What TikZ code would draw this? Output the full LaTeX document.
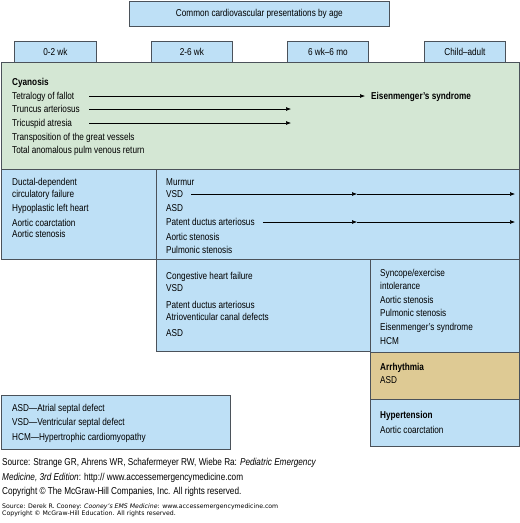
\documentclass[tikz,border=0pt]{standalone}
\usepackage{fontspec}
\setmainfont{Liberation Sans}[FakeStretch=0.82]
\newfontfamily\notefont{DejaVu Sans}
\usetikzlibrary{positioning, arrows.meta, calc}
\definecolor{boxblue}{RGB}{190,224,246}
\definecolor{boxgreen}{RGB}{212,231,212}
\definecolor{boxtan}{RGB}{222,202,148}
\definecolor{edge}{RGB}{75,82,90}

\begin{document}
\begin{tikzpicture}[x=1pt, y=-1pt, font=\fontsize{10}{12}\selectfont, >={Latex[length=5pt, width=4pt]},
  panel/.style={draw=edge, line width=0.8pt, anchor=north west, inner sep=0pt, align=center},
  txt/.style={anchor=base west, inner sep=0pt},
  arr/.style={->, line width=0.6pt}]
  \useasboundingbox (0,0) rectangle (520,523);
  % header row
  \node[panel, fill=boxblue, minimum width=260pt, minimum height=25pt] (title) at (129,1) {Common cardiovascular presentations by age};
  \node[panel, fill=boxblue, minimum width=82pt, minimum height=21pt] (age1) at (14,41) {0-2 wk};
  \node[panel, fill=boxblue, minimum width=81pt, minimum height=21pt] (age2) at (151,41) {2-6 wk};
  \node[panel, fill=boxblue, minimum width=81pt, minimum height=21pt] (age3) at (287,41) {6 wk--6 mo};
  \node[panel, fill=boxblue, minimum width=81pt, minimum height=21pt] (age4) at (424,41) {Child--adult};
  % panels
  \node[panel, fill=boxgreen, minimum width=518pt, minimum height=107pt] (cyan) at (1,62) {};
  \node[panel, fill=boxblue, minimum width=155pt, minimum height=90pt] (duct) at (1,169) {};
  \node[panel, fill=boxblue, minimum width=363pt, minimum height=90pt] (murm) at (156,169) {};
  \node[panel, fill=boxblue, minimum width=214pt, minimum height=92pt] (chf) at (156,259) {};
  \node[panel, fill=boxblue, minimum width=149pt, minimum height=93pt] (sync) at (370,259) {};
  \node[panel, fill=boxtan, minimum width=149pt, minimum height=47pt] (arrh) at (370,352) {};
  \node[panel, fill=boxblue, minimum width=149pt, minimum height=47pt] (hyper) at (370,399) {};
  \node[panel, fill=boxblue, minimum width=229pt, minimum height=54pt] (abbr) at (1,395) {};
  % cyanosis
  \node[txt, font=\bfseries] (cy0) at (12,85.5) {Cyanosis};
  \foreach \y/\t [count=\i] in {99.5/Tetralogy of fallot, 112.5/Truncus arteriosus, 126.5/Tricuspid atresia,
      140.5/Transposition of the great vessels, 153.5/Total anomalous pulm venous return}
    \node[txt] (cy\i) at (12,\y) {\t};
  \node[txt, font=\bfseries] (eis) at (371,99.5) {Eisenmenger’s syndrome};
  \coordinate (tr) at (291,109);
  \coordinate (ta) at (291,123);
  \draw[arr] (89,96) -- ([xshift=-6pt]eis.west |- 0,96);
  \draw[arr] (89,109) -- (tr);
  \draw[arr] (89,123) -- (ta);
  % 0-2 wk
  \foreach \y/\t [count=\i] in {185.5/Ductal-dependent, 197.5/circulatory failure, 211.5/Hypoplastic left heart,
      226.5/Aortic coarctation, 237.5/Aortic stenosis}
    \node[txt] (du\i) at (12,\y) {\t};
  % murmur
  \foreach \y/\t [count=\i] in {185.5/Murmur, 197.5/VSD, 211.5/ASD, 225.5/Patent ductus arteriosus,
      240.5/Aortic stenosis, 253.5/Pulmonic stenosis}
    \node[txt] (mu\i) at (166,\y) {\t};
  \coordinate (vsdm) at (357,194);
  \coordinate (vsde) at (515,194);
  \coordinate (pdam) at (357,222);
  \coordinate (pdae) at (515,222);
  \draw[arr] ([xshift=8pt]mu2.east |- vsdm) -- (vsdm);
  \draw[arr] (vsdm) -- (vsde);
  \draw[arr] ([xshift=8pt]mu4.east |- pdam) -- (pdam);
  \draw[arr] (pdam) -- (pdae);
  % congestive heart failure
  \foreach \y/\t [count=\i] in {279.5/Congestive heart failure, 291.5/VSD, 308.5/Patent ductus arteriosus,
      320.5/Atrioventicular canal defects, 336.5/ASD}
    \node[txt] (cf\i) at (166,\y) {\t};
  % syncope
  \foreach \y/\t [count=\i] in {276.5/{Syncope/exercise}, 289.5/intolerance, 303.5/Aortic stenosis,
      316.5/Pulmonic stenosis, 330.5/Eisenmenger’s syndrome, 344.5/HCM}
    \node[txt] (sy\i) at (380,\y) {\t};
  % arrhythmia, hypertension
  \node[txt, font=\bfseries] (ar1) at (380,370.5) {Arrhythmia};
  \node[txt] (ar2) at (380,383.5) {ASD};
  \node[txt, font=\bfseries] (hy1) at (380,418.5) {Hypertension};
  \node[txt] (hy2) at (380,433.5) {Aortic coarctation};
  % abbreviations
  \foreach \y/\t [count=\i] in {411.5/ASD---Atrial septal defect, 425.5/VSD---Ventricular septal defect,
      440.5/HCM---Hypertrophic cardiomyopathy}
    \node[txt] (ab\i) at (12,\y) {\t};
  % sources
  \node[txt] (src1) at (2,465) {Source: Strange GR, Ahrens WR, Schafermeyer RW, Wiebe Ra: \textit{Pediatric Emergency}};
  \node[txt] (src2) at (2,480) {\textit{Medicine, 3rd Edition}: http:// www.accessemergencymedicine.com};
  \node[txt] (src3) at (2,494.5) {Copyright \textcopyright{} The McGraw-Hill Companies, Inc. All rights reserved.};
  \node[txt, font=\notefont\fontsize{6.2}{7}\selectfont] (src4) at (2,508) {Source: Derek R. Cooney: \textit{Cooney’s EMS Medicine}: www.accessemergencymedicine.com};
  \node[txt, font=\notefont\fontsize{6.2}{7}\selectfont] (src5) at (2,515) {Copyright \textcopyright{} McGraw-Hill Education. All rights reserved.};
\end{tikzpicture}
\end{document}
